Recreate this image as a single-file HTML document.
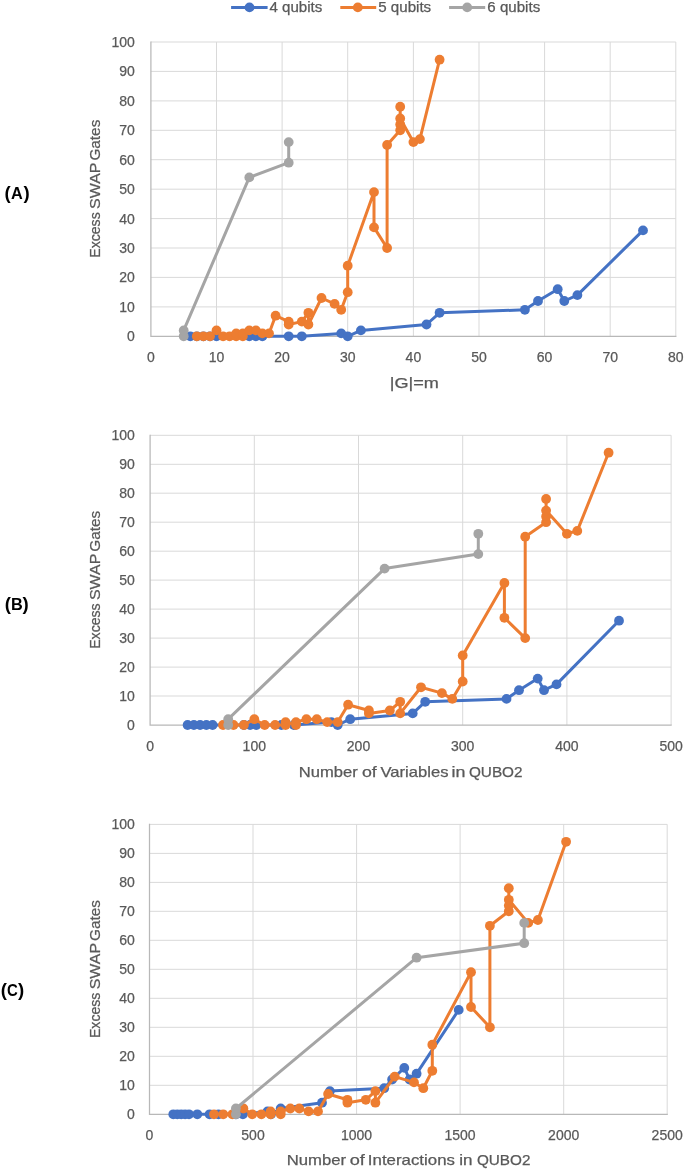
<!DOCTYPE html>
<html><head><meta charset="utf-8"><title>Excess SWAP Gates</title>
<style>
html,body{margin:0;padding:0;background:#fff;}
body{width:685px;height:1169px;overflow:hidden;}
svg{display:block;will-change:transform;}
text{font-family:"Liberation Sans",sans-serif;}
.t{font-size:14px;fill:#595959;stroke:#595959;stroke-width:0.25px;}
.ti{font-size:14.5px;fill:#595959;stroke:#595959;stroke-width:0.25px;}
.lg{font-size:14px;fill:#595959;stroke:#595959;stroke-width:0.25px;}
.pl{font-size:16.3px;font-weight:bold;fill:#000;}
.pp{font-size:18.6px;font-weight:bold;fill:#000;}
</style></head><body>
<svg width="685" height="1169" viewBox="0 0 685 1169">
<rect width="685" height="1169" fill="#fff"/>
<line x1="150.9" y1="306.9" x2="675.8" y2="306.9" stroke="#D9D9D9" stroke-width="1"/>
<line x1="150.9" y1="277.4" x2="675.8" y2="277.4" stroke="#D9D9D9" stroke-width="1"/>
<line x1="150.9" y1="248.0" x2="675.8" y2="248.0" stroke="#D9D9D9" stroke-width="1"/>
<line x1="150.9" y1="218.6" x2="675.8" y2="218.6" stroke="#D9D9D9" stroke-width="1"/>
<line x1="150.9" y1="189.2" x2="675.8" y2="189.2" stroke="#D9D9D9" stroke-width="1"/>
<line x1="150.9" y1="159.7" x2="675.8" y2="159.7" stroke="#D9D9D9" stroke-width="1"/>
<line x1="150.9" y1="130.3" x2="675.8" y2="130.3" stroke="#D9D9D9" stroke-width="1"/>
<line x1="150.9" y1="100.9" x2="675.8" y2="100.9" stroke="#D9D9D9" stroke-width="1"/>
<line x1="150.9" y1="71.4" x2="675.8" y2="71.4" stroke="#D9D9D9" stroke-width="1"/>
<line x1="150.9" y1="42.0" x2="675.8" y2="42.0" stroke="#D9D9D9" stroke-width="1"/>
<line x1="216.5" y1="42.0" x2="216.5" y2="336.3" stroke="#D9D9D9" stroke-width="1"/>
<line x1="282.1" y1="42.0" x2="282.1" y2="336.3" stroke="#D9D9D9" stroke-width="1"/>
<line x1="347.7" y1="42.0" x2="347.7" y2="336.3" stroke="#D9D9D9" stroke-width="1"/>
<line x1="413.4" y1="42.0" x2="413.4" y2="336.3" stroke="#D9D9D9" stroke-width="1"/>
<line x1="479.0" y1="42.0" x2="479.0" y2="336.3" stroke="#D9D9D9" stroke-width="1"/>
<line x1="544.6" y1="42.0" x2="544.6" y2="336.3" stroke="#D9D9D9" stroke-width="1"/>
<line x1="610.2" y1="42.0" x2="610.2" y2="336.3" stroke="#D9D9D9" stroke-width="1"/>
<line x1="675.8" y1="42.0" x2="675.8" y2="336.3" stroke="#D9D9D9" stroke-width="1"/>
<path d="M150.9,42.0V336.3H675.8" fill="none" stroke="#B8B8B8" stroke-width="1.25" stroke-linecap="square"/>
<text x="134.8" y="341.3" text-anchor="end" class="t">0</text>
<text x="134.8" y="311.9" text-anchor="end" class="t">10</text>
<text x="134.8" y="282.4" text-anchor="end" class="t">20</text>
<text x="134.8" y="253.0" text-anchor="end" class="t">30</text>
<text x="134.8" y="223.6" text-anchor="end" class="t">40</text>
<text x="134.8" y="194.2" text-anchor="end" class="t">50</text>
<text x="134.8" y="164.7" text-anchor="end" class="t">60</text>
<text x="134.8" y="135.3" text-anchor="end" class="t">70</text>
<text x="134.8" y="105.9" text-anchor="end" class="t">80</text>
<text x="134.8" y="76.4" text-anchor="end" class="t">90</text>
<text x="134.8" y="47.0" text-anchor="end" class="t">100</text>
<text x="150.9" y="361.7" text-anchor="middle" class="t">0</text>
<text x="216.5" y="361.7" text-anchor="middle" class="t">10</text>
<text x="282.1" y="361.7" text-anchor="middle" class="t">20</text>
<text x="347.7" y="361.7" text-anchor="middle" class="t">30</text>
<text x="413.4" y="361.7" text-anchor="middle" class="t">40</text>
<text x="479.0" y="361.7" text-anchor="middle" class="t">50</text>
<text x="544.6" y="361.7" text-anchor="middle" class="t">60</text>
<text x="610.2" y="361.7" text-anchor="middle" class="t">70</text>
<text x="675.8" y="361.7" text-anchor="middle" class="t">80</text>
<line x1="150.1" y1="696.0" x2="671.1" y2="696.0" stroke="#D9D9D9" stroke-width="1"/>
<line x1="150.1" y1="667.1" x2="671.1" y2="667.1" stroke="#D9D9D9" stroke-width="1"/>
<line x1="150.1" y1="638.1" x2="671.1" y2="638.1" stroke="#D9D9D9" stroke-width="1"/>
<line x1="150.1" y1="609.1" x2="671.1" y2="609.1" stroke="#D9D9D9" stroke-width="1"/>
<line x1="150.1" y1="580.1" x2="671.1" y2="580.1" stroke="#D9D9D9" stroke-width="1"/>
<line x1="150.1" y1="551.2" x2="671.1" y2="551.2" stroke="#D9D9D9" stroke-width="1"/>
<line x1="150.1" y1="522.2" x2="671.1" y2="522.2" stroke="#D9D9D9" stroke-width="1"/>
<line x1="150.1" y1="493.2" x2="671.1" y2="493.2" stroke="#D9D9D9" stroke-width="1"/>
<line x1="150.1" y1="464.3" x2="671.1" y2="464.3" stroke="#D9D9D9" stroke-width="1"/>
<line x1="150.1" y1="435.3" x2="671.1" y2="435.3" stroke="#D9D9D9" stroke-width="1"/>
<line x1="254.3" y1="435.3" x2="254.3" y2="725.0" stroke="#D9D9D9" stroke-width="1"/>
<line x1="358.5" y1="435.3" x2="358.5" y2="725.0" stroke="#D9D9D9" stroke-width="1"/>
<line x1="462.7" y1="435.3" x2="462.7" y2="725.0" stroke="#D9D9D9" stroke-width="1"/>
<line x1="566.9" y1="435.3" x2="566.9" y2="725.0" stroke="#D9D9D9" stroke-width="1"/>
<line x1="671.1" y1="435.3" x2="671.1" y2="725.0" stroke="#D9D9D9" stroke-width="1"/>
<path d="M150.1,435.3V725.0H671.1" fill="none" stroke="#B8B8B8" stroke-width="1.25" stroke-linecap="square"/>
<text x="134.8" y="730.0" text-anchor="end" class="t">0</text>
<text x="134.8" y="701.0" text-anchor="end" class="t">10</text>
<text x="134.8" y="672.1" text-anchor="end" class="t">20</text>
<text x="134.8" y="643.1" text-anchor="end" class="t">30</text>
<text x="134.8" y="614.1" text-anchor="end" class="t">40</text>
<text x="134.8" y="585.1" text-anchor="end" class="t">50</text>
<text x="134.8" y="556.2" text-anchor="end" class="t">60</text>
<text x="134.8" y="527.2" text-anchor="end" class="t">70</text>
<text x="134.8" y="498.2" text-anchor="end" class="t">80</text>
<text x="134.8" y="469.3" text-anchor="end" class="t">90</text>
<text x="134.8" y="440.3" text-anchor="end" class="t">100</text>
<text x="150.1" y="751.1" text-anchor="middle" class="t">0</text>
<text x="254.3" y="751.1" text-anchor="middle" class="t">100</text>
<text x="358.5" y="751.1" text-anchor="middle" class="t">200</text>
<text x="462.7" y="751.1" text-anchor="middle" class="t">300</text>
<text x="566.9" y="751.1" text-anchor="middle" class="t">400</text>
<text x="671.1" y="751.1" text-anchor="middle" class="t">500</text>
<line x1="149.5" y1="1085.3" x2="667.2" y2="1085.3" stroke="#D9D9D9" stroke-width="1"/>
<line x1="149.5" y1="1056.3" x2="667.2" y2="1056.3" stroke="#D9D9D9" stroke-width="1"/>
<line x1="149.5" y1="1027.3" x2="667.2" y2="1027.3" stroke="#D9D9D9" stroke-width="1"/>
<line x1="149.5" y1="998.3" x2="667.2" y2="998.3" stroke="#D9D9D9" stroke-width="1"/>
<line x1="149.5" y1="969.3" x2="667.2" y2="969.3" stroke="#D9D9D9" stroke-width="1"/>
<line x1="149.5" y1="940.3" x2="667.2" y2="940.3" stroke="#D9D9D9" stroke-width="1"/>
<line x1="149.5" y1="911.3" x2="667.2" y2="911.3" stroke="#D9D9D9" stroke-width="1"/>
<line x1="149.5" y1="882.4" x2="667.2" y2="882.4" stroke="#D9D9D9" stroke-width="1"/>
<line x1="149.5" y1="853.4" x2="667.2" y2="853.4" stroke="#D9D9D9" stroke-width="1"/>
<line x1="149.5" y1="824.4" x2="667.2" y2="824.4" stroke="#D9D9D9" stroke-width="1"/>
<line x1="253.0" y1="824.4" x2="253.0" y2="1114.3" stroke="#D9D9D9" stroke-width="1"/>
<line x1="356.6" y1="824.4" x2="356.6" y2="1114.3" stroke="#D9D9D9" stroke-width="1"/>
<line x1="460.1" y1="824.4" x2="460.1" y2="1114.3" stroke="#D9D9D9" stroke-width="1"/>
<line x1="563.7" y1="824.4" x2="563.7" y2="1114.3" stroke="#D9D9D9" stroke-width="1"/>
<line x1="667.2" y1="824.4" x2="667.2" y2="1114.3" stroke="#D9D9D9" stroke-width="1"/>
<path d="M149.5,824.4V1114.3H667.2" fill="none" stroke="#B8B8B8" stroke-width="1.25" stroke-linecap="square"/>
<text x="134.8" y="1119.3" text-anchor="end" class="t">0</text>
<text x="134.8" y="1090.3" text-anchor="end" class="t">10</text>
<text x="134.8" y="1061.3" text-anchor="end" class="t">20</text>
<text x="134.8" y="1032.3" text-anchor="end" class="t">30</text>
<text x="134.8" y="1003.3" text-anchor="end" class="t">40</text>
<text x="134.8" y="974.3" text-anchor="end" class="t">50</text>
<text x="134.8" y="945.3" text-anchor="end" class="t">60</text>
<text x="134.8" y="916.3" text-anchor="end" class="t">70</text>
<text x="134.8" y="887.4" text-anchor="end" class="t">80</text>
<text x="134.8" y="858.4" text-anchor="end" class="t">90</text>
<text x="134.8" y="829.4" text-anchor="end" class="t">100</text>
<text x="149.5" y="1139.5" text-anchor="middle" class="t">0</text>
<text x="253.0" y="1139.5" text-anchor="middle" class="t">500</text>
<text x="356.6" y="1139.5" text-anchor="middle" class="t">1000</text>
<text x="460.1" y="1139.5" text-anchor="middle" class="t">1500</text>
<text x="563.7" y="1139.5" text-anchor="middle" class="t">2000</text>
<text x="667.2" y="1139.5" text-anchor="middle" class="t">2500</text>
<polyline points="190.3,336.3 196.8,336.3 203.4,336.3 210.0,336.3 216.5,336.3 249.3,336.3 255.9,336.3 262.4,336.3 288.7,336.3 301.8,336.3 341.2,333.4 347.7,336.3 360.9,330.4 426.5,324.5 439.6,312.8 524.9,309.8 538.0,301.0 557.7,289.2 564.3,301.0 577.4,295.1 643.0,230.4" fill="none" stroke="#4472C4" stroke-width="3.0" stroke-linejoin="round" stroke-linecap="round"/>
<circle cx="190.3" cy="336.3" r="4.9" fill="#4472C4"/>
<circle cx="196.8" cy="336.3" r="4.9" fill="#4472C4"/>
<circle cx="203.4" cy="336.3" r="4.9" fill="#4472C4"/>
<circle cx="210.0" cy="336.3" r="4.9" fill="#4472C4"/>
<circle cx="216.5" cy="336.3" r="4.9" fill="#4472C4"/>
<circle cx="249.3" cy="336.3" r="4.9" fill="#4472C4"/>
<circle cx="255.9" cy="336.3" r="4.9" fill="#4472C4"/>
<circle cx="262.4" cy="336.3" r="4.9" fill="#4472C4"/>
<circle cx="288.7" cy="336.3" r="4.9" fill="#4472C4"/>
<circle cx="301.8" cy="336.3" r="4.9" fill="#4472C4"/>
<circle cx="341.2" cy="333.4" r="4.9" fill="#4472C4"/>
<circle cx="347.7" cy="336.3" r="4.9" fill="#4472C4"/>
<circle cx="360.9" cy="330.4" r="4.9" fill="#4472C4"/>
<circle cx="426.5" cy="324.5" r="4.9" fill="#4472C4"/>
<circle cx="439.6" cy="312.8" r="4.9" fill="#4472C4"/>
<circle cx="524.9" cy="309.8" r="4.9" fill="#4472C4"/>
<circle cx="538.0" cy="301.0" r="4.9" fill="#4472C4"/>
<circle cx="557.7" cy="289.2" r="4.9" fill="#4472C4"/>
<circle cx="564.3" cy="301.0" r="4.9" fill="#4472C4"/>
<circle cx="577.4" cy="295.1" r="4.9" fill="#4472C4"/>
<circle cx="643.0" cy="230.4" r="4.9" fill="#4472C4"/>
<polyline points="196.8,336.3 203.4,336.3 210.0,336.3 216.5,330.4 223.1,336.3 229.6,336.3 236.2,336.3 236.2,333.4 242.8,336.3 242.8,333.4 249.3,330.4 255.9,330.4 262.4,333.4 269.0,333.4 275.6,315.7 288.7,321.6 288.7,324.5 301.8,321.6 308.4,312.8 308.4,324.5 321.5,298.0 334.6,303.9 341.2,309.8 347.7,292.2 347.7,265.7 374.0,192.1 374.0,227.4 387.1,248.0 387.1,145.0 400.2,130.3 400.2,124.4 400.2,106.7 400.2,118.5 413.4,142.1 419.9,139.1 439.6,59.7" fill="none" stroke="#ED7D31" stroke-width="3.0" stroke-linejoin="round" stroke-linecap="round"/>
<circle cx="196.8" cy="336.3" r="4.9" fill="#ED7D31"/>
<circle cx="203.4" cy="336.3" r="4.9" fill="#ED7D31"/>
<circle cx="210.0" cy="336.3" r="4.9" fill="#ED7D31"/>
<circle cx="216.5" cy="330.4" r="4.9" fill="#ED7D31"/>
<circle cx="223.1" cy="336.3" r="4.9" fill="#ED7D31"/>
<circle cx="229.6" cy="336.3" r="4.9" fill="#ED7D31"/>
<circle cx="236.2" cy="336.3" r="4.9" fill="#ED7D31"/>
<circle cx="236.2" cy="333.4" r="4.9" fill="#ED7D31"/>
<circle cx="242.8" cy="336.3" r="4.9" fill="#ED7D31"/>
<circle cx="242.8" cy="333.4" r="4.9" fill="#ED7D31"/>
<circle cx="249.3" cy="330.4" r="4.9" fill="#ED7D31"/>
<circle cx="255.9" cy="330.4" r="4.9" fill="#ED7D31"/>
<circle cx="262.4" cy="333.4" r="4.9" fill="#ED7D31"/>
<circle cx="269.0" cy="333.4" r="4.9" fill="#ED7D31"/>
<circle cx="275.6" cy="315.7" r="4.9" fill="#ED7D31"/>
<circle cx="288.7" cy="321.6" r="4.9" fill="#ED7D31"/>
<circle cx="288.7" cy="324.5" r="4.9" fill="#ED7D31"/>
<circle cx="301.8" cy="321.6" r="4.9" fill="#ED7D31"/>
<circle cx="308.4" cy="312.8" r="4.9" fill="#ED7D31"/>
<circle cx="308.4" cy="324.5" r="4.9" fill="#ED7D31"/>
<circle cx="321.5" cy="298.0" r="4.9" fill="#ED7D31"/>
<circle cx="334.6" cy="303.9" r="4.9" fill="#ED7D31"/>
<circle cx="341.2" cy="309.8" r="4.9" fill="#ED7D31"/>
<circle cx="347.7" cy="292.2" r="4.9" fill="#ED7D31"/>
<circle cx="347.7" cy="265.7" r="4.9" fill="#ED7D31"/>
<circle cx="374.0" cy="192.1" r="4.9" fill="#ED7D31"/>
<circle cx="374.0" cy="227.4" r="4.9" fill="#ED7D31"/>
<circle cx="387.1" cy="248.0" r="4.9" fill="#ED7D31"/>
<circle cx="387.1" cy="145.0" r="4.9" fill="#ED7D31"/>
<circle cx="400.2" cy="130.3" r="4.9" fill="#ED7D31"/>
<circle cx="400.2" cy="124.4" r="4.9" fill="#ED7D31"/>
<circle cx="400.2" cy="106.7" r="4.9" fill="#ED7D31"/>
<circle cx="400.2" cy="118.5" r="4.9" fill="#ED7D31"/>
<circle cx="413.4" cy="142.1" r="4.9" fill="#ED7D31"/>
<circle cx="419.9" cy="139.1" r="4.9" fill="#ED7D31"/>
<circle cx="439.6" cy="59.7" r="4.9" fill="#ED7D31"/>
<polyline points="183.7,336.3 183.7,330.4 249.3,177.4 288.7,162.7 288.7,142.1" fill="none" stroke="#A5A5A5" stroke-width="3.0" stroke-linejoin="round" stroke-linecap="round"/>
<circle cx="183.7" cy="336.3" r="4.9" fill="#A5A5A5"/>
<circle cx="183.7" cy="330.4" r="4.9" fill="#A5A5A5"/>
<circle cx="249.3" cy="177.4" r="4.9" fill="#A5A5A5"/>
<circle cx="288.7" cy="162.7" r="4.9" fill="#A5A5A5"/>
<circle cx="288.7" cy="142.1" r="4.9" fill="#A5A5A5"/>
<polyline points="187.6,725.0 193.9,725.0 200.1,725.0 206.4,725.0 212.6,725.0 243.9,725.0 250.1,725.0 256.4,725.0 281.4,725.0 293.9,725.0 331.4,722.1 337.7,725.0 350.2,719.2 412.7,713.4 425.2,701.8 506.5,698.9 519.0,690.2 537.7,678.6 544.0,690.2 556.5,684.4 619.0,620.7" fill="none" stroke="#4472C4" stroke-width="3.0" stroke-linejoin="round" stroke-linecap="round"/>
<circle cx="187.6" cy="725.0" r="4.9" fill="#4472C4"/>
<circle cx="193.9" cy="725.0" r="4.9" fill="#4472C4"/>
<circle cx="200.1" cy="725.0" r="4.9" fill="#4472C4"/>
<circle cx="206.4" cy="725.0" r="4.9" fill="#4472C4"/>
<circle cx="212.6" cy="725.0" r="4.9" fill="#4472C4"/>
<circle cx="243.9" cy="725.0" r="4.9" fill="#4472C4"/>
<circle cx="250.1" cy="725.0" r="4.9" fill="#4472C4"/>
<circle cx="256.4" cy="725.0" r="4.9" fill="#4472C4"/>
<circle cx="281.4" cy="725.0" r="4.9" fill="#4472C4"/>
<circle cx="293.9" cy="725.0" r="4.9" fill="#4472C4"/>
<circle cx="331.4" cy="722.1" r="4.9" fill="#4472C4"/>
<circle cx="337.7" cy="725.0" r="4.9" fill="#4472C4"/>
<circle cx="350.2" cy="719.2" r="4.9" fill="#4472C4"/>
<circle cx="412.7" cy="713.4" r="4.9" fill="#4472C4"/>
<circle cx="425.2" cy="701.8" r="4.9" fill="#4472C4"/>
<circle cx="506.5" cy="698.9" r="4.9" fill="#4472C4"/>
<circle cx="519.0" cy="690.2" r="4.9" fill="#4472C4"/>
<circle cx="537.7" cy="678.6" r="4.9" fill="#4472C4"/>
<circle cx="544.0" cy="690.2" r="4.9" fill="#4472C4"/>
<circle cx="556.5" cy="684.4" r="4.9" fill="#4472C4"/>
<circle cx="619.0" cy="620.7" r="4.9" fill="#4472C4"/>
<polyline points="223.0,725.0 233.5,725.0 243.9,725.0 254.3,719.2 264.7,725.0 275.1,725.0 285.6,725.0 285.6,722.1 296.0,725.0 296.0,722.1 306.4,719.2 316.8,719.2 327.2,722.1 337.7,722.1 348.1,704.7 368.9,710.5 368.9,713.4 389.8,710.5 400.2,701.8 400.2,713.4 421.0,687.3 441.9,693.1 452.3,698.9 462.7,681.5 462.7,655.5 504.4,583.0 504.4,617.8 525.2,638.1 525.2,536.7 546.1,522.2 546.1,516.4 546.1,499.0 546.1,510.6 566.9,533.8 577.3,530.9 608.6,452.7" fill="none" stroke="#ED7D31" stroke-width="3.0" stroke-linejoin="round" stroke-linecap="round"/>
<circle cx="223.0" cy="725.0" r="4.9" fill="#ED7D31"/>
<circle cx="233.5" cy="725.0" r="4.9" fill="#ED7D31"/>
<circle cx="243.9" cy="725.0" r="4.9" fill="#ED7D31"/>
<circle cx="254.3" cy="719.2" r="4.9" fill="#ED7D31"/>
<circle cx="264.7" cy="725.0" r="4.9" fill="#ED7D31"/>
<circle cx="275.1" cy="725.0" r="4.9" fill="#ED7D31"/>
<circle cx="285.6" cy="725.0" r="4.9" fill="#ED7D31"/>
<circle cx="285.6" cy="722.1" r="4.9" fill="#ED7D31"/>
<circle cx="296.0" cy="725.0" r="4.9" fill="#ED7D31"/>
<circle cx="296.0" cy="722.1" r="4.9" fill="#ED7D31"/>
<circle cx="306.4" cy="719.2" r="4.9" fill="#ED7D31"/>
<circle cx="316.8" cy="719.2" r="4.9" fill="#ED7D31"/>
<circle cx="327.2" cy="722.1" r="4.9" fill="#ED7D31"/>
<circle cx="337.7" cy="722.1" r="4.9" fill="#ED7D31"/>
<circle cx="348.1" cy="704.7" r="4.9" fill="#ED7D31"/>
<circle cx="368.9" cy="710.5" r="4.9" fill="#ED7D31"/>
<circle cx="368.9" cy="713.4" r="4.9" fill="#ED7D31"/>
<circle cx="389.8" cy="710.5" r="4.9" fill="#ED7D31"/>
<circle cx="400.2" cy="701.8" r="4.9" fill="#ED7D31"/>
<circle cx="400.2" cy="713.4" r="4.9" fill="#ED7D31"/>
<circle cx="421.0" cy="687.3" r="4.9" fill="#ED7D31"/>
<circle cx="441.9" cy="693.1" r="4.9" fill="#ED7D31"/>
<circle cx="452.3" cy="698.9" r="4.9" fill="#ED7D31"/>
<circle cx="462.7" cy="681.5" r="4.9" fill="#ED7D31"/>
<circle cx="462.7" cy="655.5" r="4.9" fill="#ED7D31"/>
<circle cx="504.4" cy="583.0" r="4.9" fill="#ED7D31"/>
<circle cx="504.4" cy="617.8" r="4.9" fill="#ED7D31"/>
<circle cx="525.2" cy="638.1" r="4.9" fill="#ED7D31"/>
<circle cx="525.2" cy="536.7" r="4.9" fill="#ED7D31"/>
<circle cx="546.1" cy="522.2" r="4.9" fill="#ED7D31"/>
<circle cx="546.1" cy="516.4" r="4.9" fill="#ED7D31"/>
<circle cx="546.1" cy="499.0" r="4.9" fill="#ED7D31"/>
<circle cx="546.1" cy="510.6" r="4.9" fill="#ED7D31"/>
<circle cx="566.9" cy="533.8" r="4.9" fill="#ED7D31"/>
<circle cx="577.3" cy="530.9" r="4.9" fill="#ED7D31"/>
<circle cx="608.6" cy="452.7" r="4.9" fill="#ED7D31"/>
<polyline points="228.2,725.0 228.2,719.2 384.6,568.6 478.3,554.1 478.3,533.8" fill="none" stroke="#A5A5A5" stroke-width="3.0" stroke-linejoin="round" stroke-linecap="round"/>
<circle cx="228.2" cy="725.0" r="4.9" fill="#A5A5A5"/>
<circle cx="228.2" cy="719.2" r="4.9" fill="#A5A5A5"/>
<circle cx="384.6" cy="568.6" r="4.9" fill="#A5A5A5"/>
<circle cx="478.3" cy="554.1" r="4.9" fill="#A5A5A5"/>
<circle cx="478.3" cy="533.8" r="4.9" fill="#A5A5A5"/>
<polyline points="173.3,1114.3 177.3,1114.3 181.2,1114.3 185.1,1114.3 189.0,1114.3 197.3,1114.3 209.6,1114.3 218.5,1114.3 236.0,1114.3 242.9,1114.3 267.5,1111.4 271.0,1114.3 280.7,1108.5 322.0,1102.7 329.9,1091.1 384.2,1088.2 392.1,1079.5 404.3,1067.9 409.6,1079.5 416.6,1073.7 458.7,1009.9" fill="none" stroke="#4472C4" stroke-width="3.0" stroke-linejoin="round" stroke-linecap="round"/>
<circle cx="173.3" cy="1114.3" r="4.9" fill="#4472C4"/>
<circle cx="177.3" cy="1114.3" r="4.9" fill="#4472C4"/>
<circle cx="181.2" cy="1114.3" r="4.9" fill="#4472C4"/>
<circle cx="185.1" cy="1114.3" r="4.9" fill="#4472C4"/>
<circle cx="189.0" cy="1114.3" r="4.9" fill="#4472C4"/>
<circle cx="197.3" cy="1114.3" r="4.9" fill="#4472C4"/>
<circle cx="209.6" cy="1114.3" r="4.9" fill="#4472C4"/>
<circle cx="218.5" cy="1114.3" r="4.9" fill="#4472C4"/>
<circle cx="236.0" cy="1114.3" r="4.9" fill="#4472C4"/>
<circle cx="242.9" cy="1114.3" r="4.9" fill="#4472C4"/>
<circle cx="267.5" cy="1111.4" r="4.9" fill="#4472C4"/>
<circle cx="271.0" cy="1114.3" r="4.9" fill="#4472C4"/>
<circle cx="280.7" cy="1108.5" r="4.9" fill="#4472C4"/>
<circle cx="322.0" cy="1102.7" r="4.9" fill="#4472C4"/>
<circle cx="329.9" cy="1091.1" r="4.9" fill="#4472C4"/>
<circle cx="384.2" cy="1088.2" r="4.9" fill="#4472C4"/>
<circle cx="392.1" cy="1079.5" r="4.9" fill="#4472C4"/>
<circle cx="404.3" cy="1067.9" r="4.9" fill="#4472C4"/>
<circle cx="409.6" cy="1079.5" r="4.9" fill="#4472C4"/>
<circle cx="416.6" cy="1073.7" r="4.9" fill="#4472C4"/>
<circle cx="458.7" cy="1009.9" r="4.9" fill="#4472C4"/>
<polyline points="214.0,1114.3 223.2,1114.3 232.4,1114.3 243.4,1108.5 252.2,1114.3 261.4,1114.3 270.6,1114.3 270.6,1111.4 280.7,1114.3 280.7,1111.4 290.3,1108.5 299.3,1108.5 308.6,1111.4 318.0,1111.4 328.1,1094.0 347.4,1099.8 347.4,1102.7 365.8,1099.8 375.4,1091.1 375.4,1102.7 394.7,1076.6 414.0,1082.4 423.3,1088.2 432.3,1070.8 432.3,1044.7 471.0,972.2 471.0,1007.0 489.9,1027.3 489.9,925.8 508.8,911.3 508.8,905.6 508.8,888.2 508.8,899.8 528.2,922.9 537.9,920.0 566.1,841.8" fill="none" stroke="#ED7D31" stroke-width="3.0" stroke-linejoin="round" stroke-linecap="round"/>
<circle cx="214.0" cy="1114.3" r="4.9" fill="#ED7D31"/>
<circle cx="223.2" cy="1114.3" r="4.9" fill="#ED7D31"/>
<circle cx="232.4" cy="1114.3" r="4.9" fill="#ED7D31"/>
<circle cx="243.4" cy="1108.5" r="4.9" fill="#ED7D31"/>
<circle cx="252.2" cy="1114.3" r="4.9" fill="#ED7D31"/>
<circle cx="261.4" cy="1114.3" r="4.9" fill="#ED7D31"/>
<circle cx="270.6" cy="1114.3" r="4.9" fill="#ED7D31"/>
<circle cx="270.6" cy="1111.4" r="4.9" fill="#ED7D31"/>
<circle cx="280.7" cy="1114.3" r="4.9" fill="#ED7D31"/>
<circle cx="280.7" cy="1111.4" r="4.9" fill="#ED7D31"/>
<circle cx="290.3" cy="1108.5" r="4.9" fill="#ED7D31"/>
<circle cx="299.3" cy="1108.5" r="4.9" fill="#ED7D31"/>
<circle cx="308.6" cy="1111.4" r="4.9" fill="#ED7D31"/>
<circle cx="318.0" cy="1111.4" r="4.9" fill="#ED7D31"/>
<circle cx="328.1" cy="1094.0" r="4.9" fill="#ED7D31"/>
<circle cx="347.4" cy="1099.8" r="4.9" fill="#ED7D31"/>
<circle cx="347.4" cy="1102.7" r="4.9" fill="#ED7D31"/>
<circle cx="365.8" cy="1099.8" r="4.9" fill="#ED7D31"/>
<circle cx="375.4" cy="1091.1" r="4.9" fill="#ED7D31"/>
<circle cx="375.4" cy="1102.7" r="4.9" fill="#ED7D31"/>
<circle cx="394.7" cy="1076.6" r="4.9" fill="#ED7D31"/>
<circle cx="414.0" cy="1082.4" r="4.9" fill="#ED7D31"/>
<circle cx="423.3" cy="1088.2" r="4.9" fill="#ED7D31"/>
<circle cx="432.3" cy="1070.8" r="4.9" fill="#ED7D31"/>
<circle cx="432.3" cy="1044.7" r="4.9" fill="#ED7D31"/>
<circle cx="471.0" cy="972.2" r="4.9" fill="#ED7D31"/>
<circle cx="471.0" cy="1007.0" r="4.9" fill="#ED7D31"/>
<circle cx="489.9" cy="1027.3" r="4.9" fill="#ED7D31"/>
<circle cx="489.9" cy="925.8" r="4.9" fill="#ED7D31"/>
<circle cx="508.8" cy="911.3" r="4.9" fill="#ED7D31"/>
<circle cx="508.8" cy="905.6" r="4.9" fill="#ED7D31"/>
<circle cx="508.8" cy="888.2" r="4.9" fill="#ED7D31"/>
<circle cx="508.8" cy="899.8" r="4.9" fill="#ED7D31"/>
<circle cx="528.2" cy="922.9" r="4.9" fill="#ED7D31"/>
<circle cx="537.9" cy="920.0" r="4.9" fill="#ED7D31"/>
<circle cx="566.1" cy="841.8" r="4.9" fill="#ED7D31"/>
<polyline points="235.9,1114.3 235.9,1108.5 416.6,957.7 524.2,943.2 524.2,922.9" fill="none" stroke="#A5A5A5" stroke-width="3.0" stroke-linejoin="round" stroke-linecap="round"/>
<circle cx="235.9" cy="1114.3" r="4.9" fill="#A5A5A5"/>
<circle cx="235.9" cy="1108.5" r="4.9" fill="#A5A5A5"/>
<circle cx="416.6" cy="957.7" r="4.9" fill="#A5A5A5"/>
<circle cx="524.2" cy="943.2" r="4.9" fill="#A5A5A5"/>
<circle cx="524.2" cy="922.9" r="4.9" fill="#A5A5A5"/>
<text x="389.82" y="387.5" class="ti" textLength="49.14" lengthAdjust="spacingAndGlyphs">|G|=m</text>
<text x="298.78" y="777.1" class="ti" textLength="58.95" lengthAdjust="spacingAndGlyphs">Number</text>
<text x="361.99" y="777.1" class="ti" textLength="14.82" lengthAdjust="spacingAndGlyphs">of</text>
<text x="380.54" y="777.1" class="ti" textLength="67.91" lengthAdjust="spacingAndGlyphs">Variables</text>
<text x="451.6" y="777.1" class="ti" textLength="13.9" lengthAdjust="spacingAndGlyphs">in</text>
<text x="468.92" y="777.1" class="ti" textLength="53.66" lengthAdjust="spacingAndGlyphs">QUBO2</text>
<text x="286.78" y="1165.2" class="ti" textLength="59.31" lengthAdjust="spacingAndGlyphs">Number</text>
<text x="349.72" y="1165.2" class="ti" textLength="15.15" lengthAdjust="spacingAndGlyphs">of</text>
<text x="367.88" y="1165.2" class="ti" textLength="87.08" lengthAdjust="spacingAndGlyphs">Interactions</text>
<text x="459.33" y="1165.2" class="ti" textLength="13.26" lengthAdjust="spacingAndGlyphs">in</text>
<text x="476.91" y="1165.2" class="ti" textLength="53.53" lengthAdjust="spacingAndGlyphs">QUBO2</text>
<g transform="translate(99.8,257.00) rotate(-90)"><text x="-0.70" y="0" class="ti" textLength="45.38" lengthAdjust="spacingAndGlyphs">Excess</text><text x="47.99" y="0" class="ti" textLength="46.47" lengthAdjust="spacingAndGlyphs">SWAP</text><text x="96.40" y="0" class="ti" textLength="40.94" lengthAdjust="spacingAndGlyphs">Gates</text></g>
<g transform="translate(99.8,648.10) rotate(-90)"><text x="-0.70" y="0" class="ti" textLength="45.38" lengthAdjust="spacingAndGlyphs">Excess</text><text x="47.99" y="0" class="ti" textLength="46.47" lengthAdjust="spacingAndGlyphs">SWAP</text><text x="96.40" y="0" class="ti" textLength="40.94" lengthAdjust="spacingAndGlyphs">Gates</text></g>
<g transform="translate(99.8,1037.35) rotate(-90)"><text x="-0.70" y="0" class="ti" textLength="45.38" lengthAdjust="spacingAndGlyphs">Excess</text><text x="47.99" y="0" class="ti" textLength="46.47" lengthAdjust="spacingAndGlyphs">SWAP</text><text x="96.40" y="0" class="ti" textLength="40.94" lengthAdjust="spacingAndGlyphs">Gates</text></g>
<text x="4.5" y="198.7" class="pp">(</text><text x="10.9" y="198.7" class="pl">A</text><text x="23.4" y="198.7" class="pp">)</text>
<text x="4.8" y="609.7" class="pp">(</text><text x="11.0" y="609.7" class="pl">B</text><text x="22.6" y="609.7" class="pp">)</text>
<text x="0.8" y="995.6" class="pp">(</text><text x="7.0" y="995.6" class="pl" textLength="10.8" lengthAdjust="spacingAndGlyphs">C</text><text x="17.9" y="995.6" class="pp">)</text>
<line x1="231.1" y1="7.4" x2="267.6" y2="7.4" stroke="#4472C4" stroke-width="3.0"/>
<circle cx="249.5" cy="7.4" r="4.9" fill="#4472C4"/>
<text x="269.53" y="11.9" class="lg" textLength="52.82" lengthAdjust="spacingAndGlyphs">4 qubits</text>
<line x1="340.3" y1="7.4" x2="376.2" y2="7.4" stroke="#ED7D31" stroke-width="3.0"/>
<circle cx="357.8" cy="7.4" r="4.9" fill="#ED7D31"/>
<text x="378.24" y="11.9" class="lg" textLength="52.94" lengthAdjust="spacingAndGlyphs">5 qubits</text>
<line x1="449.1" y1="7.4" x2="485.2" y2="7.4" stroke="#A5A5A5" stroke-width="3.0"/>
<circle cx="467.2" cy="7.4" r="4.9" fill="#A5A5A5"/>
<text x="487.38" y="11.9" class="lg" textLength="52.8" lengthAdjust="spacingAndGlyphs">6 qubits</text>
</svg>
</body></html>
